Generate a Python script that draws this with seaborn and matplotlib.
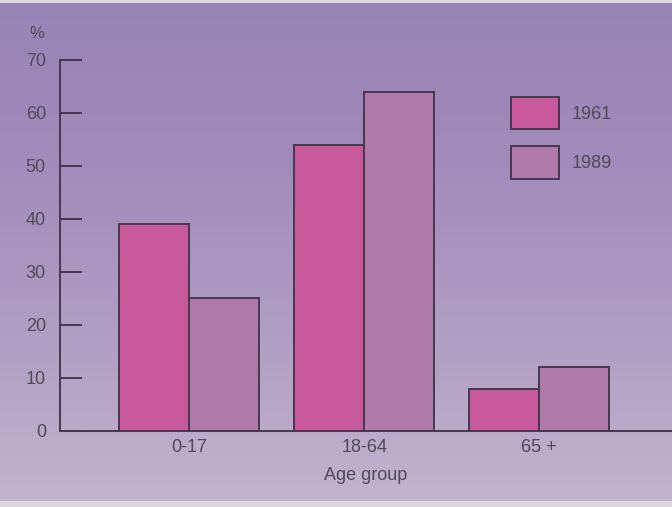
import numpy as np
import pandas as pd
import matplotlib.pyplot as plt
import seaborn as sns
from matplotlib.colors import LinearSegmentedColormap
from matplotlib.patches import Patch

groups = ["0-17", "18-64", "65 +"]
years = ["1961", "1989"]
share_1961 = [39, 54, 8]
share_1989 = [25, 64, 12]

df = pd.DataFrame({
    "Age group": groups * 2,
    "Year": [years[0]] * 3 + [years[1]] * 3,
    "Percent": share_1961 + share_1989,
})

sns.set_theme(style="white")
plt.rcParams["font.family"] = ["Liberation Sans", "DejaVu Sans"]
text_col = "#4f4a58"
edge_col = "#45384e"
colors = ["#c8599c", "#af7aaa"]

fig = plt.figure(figsize=(6.72, 5.07), dpi=100)
fig.patch.set_facecolor("#dcd6e0")

# background gradient (purple top -> pale lilac bottom)
bg = fig.add_axes([0, 0.012, 1, 0.982], zorder=0)
cmap = LinearSegmentedColormap.from_list(
    "bg", ["#9883b6", "#a28cbb", "#b09dc3", "#c2b3cd"])
grad = np.linspace(0, 1, 256).reshape(-1, 1)
bg.imshow(grad, aspect="auto", cmap=cmap, extent=[0, 1, 0, 1], origin="upper")
bg.set_axis_off()

ax = fig.add_axes([0.089, 0.150, 0.911, 0.732], zorder=1)
ax.patch.set_alpha(0)

sns.barplot(data=df, x="Age group", y="Percent", hue="Year", palette=colors,
            edgecolor=edge_col, linewidth=1.4, width=0.8, saturation=1,
            legend=False, ax=ax)

ax.set_ylim(0, 70)
ax.set_xlim(-0.74, 2.76)
ax.set_yticks(range(0, 71, 10))
for side in ["top", "right"]:
    ax.spines[side].set_visible(False)
for side in ["left", "bottom"]:
    ax.spines[side].set_color(edge_col)
    ax.spines[side].set_linewidth(1.4)

ax.tick_params(axis="y", left=True, direction="in", length=16, width=1.4,
               color=edge_col, labelsize=13, labelcolor=text_col, pad=10)
ax.tick_params(axis="x", bottom=False, length=0, labelsize=13,
               labelcolor=text_col, pad=6)
ax.set_ylabel("")
ax.set_xlabel("Age group", fontsize=13, color=text_col, labelpad=8)
fig.text(0.044, 0.925, "%", fontsize=12, color=text_col)

handles = [Patch(facecolor=c, edgecolor=edge_col, linewidth=1.4) for c in colors]
leg = ax.legend(handles, years, loc="upper left", bbox_to_anchor=(0.71, 0.944),
                frameon=False, fontsize=13, handlelength=2.65, handleheight=2.4,
                labelspacing=0.92, handletextpad=0.7)
for t in leg.get_texts():
    t.set_color(text_col)

fig.savefig("out.png", dpi=100)
